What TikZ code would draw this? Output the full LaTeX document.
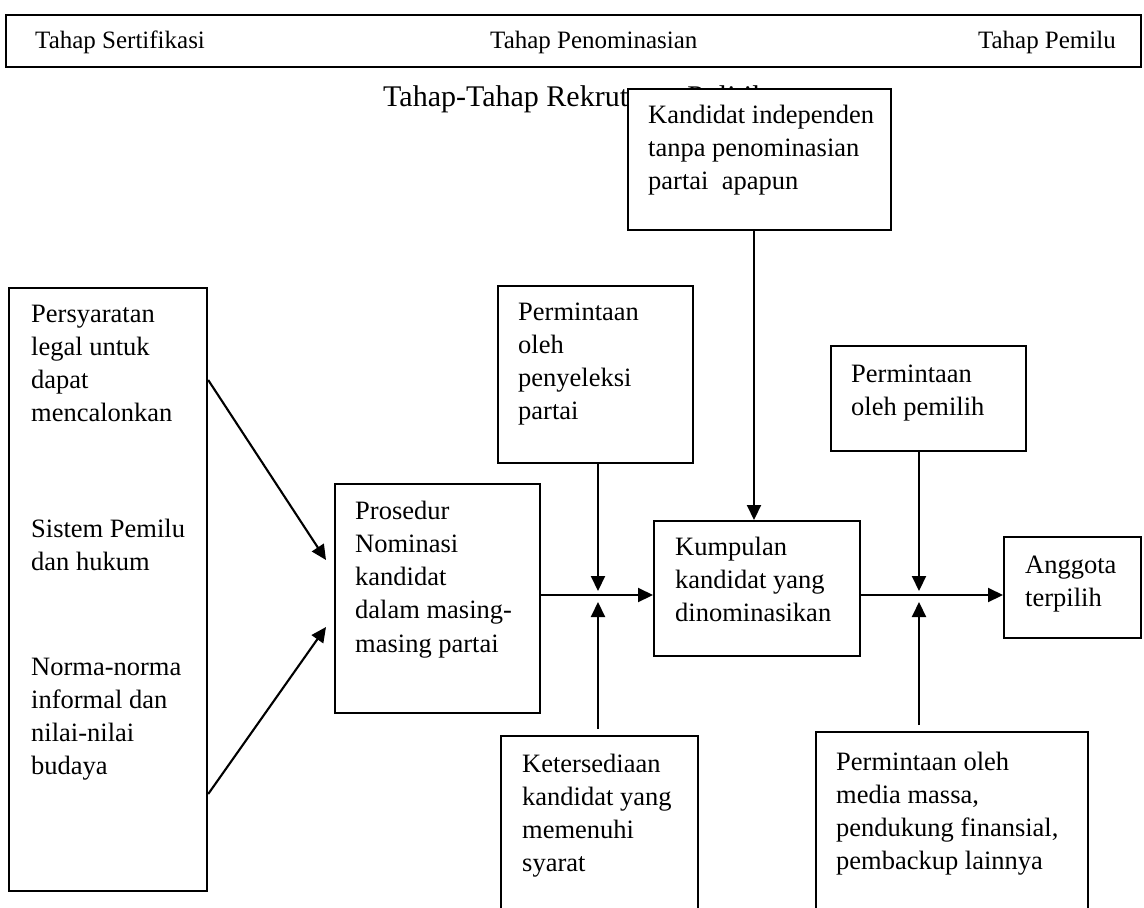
\documentclass[tikz,border=0pt]{standalone}
\usepackage{fontspec}
\setmainfont{Liberation Serif}
\usetikzlibrary{arrows.meta,calc}
\newcommand{\blk}[1]{\parbox[t]{300pt}{\raggedright #1}}
\begin{document}
\begin{tikzpicture}[x=1pt,y=-1pt,
  box/.style={draw=black, line width=2.2pt, fill=white, inner sep=0pt, anchor=north west},
  txt/.style={anchor=base west, inner sep=0pt, font=\fontsize{26.5}{33.3}\selectfont},
  toptxt/.style={inner sep=0pt, font=\fontsize{25}{30}\selectfont},
  arr/.style={line width=2.1pt, -{Triangle[length=15pt,width=14pt]}}]
\path[use as bounding box] (0,0) rectangle (1144,908);
\clip (0,0) rectangle (1144,908);
% header
\node[box, minimum width=1135pt, minimum height=52pt] (head) at (5,14) {};
\node[toptxt, anchor=base west] (h1) at (35,48) {Tahap Sertifikasi};
\node[toptxt, anchor=base west] (h2) at (490,48) {Tahap Penominasian};
\node[toptxt, anchor=base east] (h3) at (1116,48) {Tahap Pemilu};
\node[anchor=base west, inner sep=0pt, font=\fontsize{30}{36}\selectfont] (title) at (383,106) {Tahap-Tahap Rekrutmen Politik};
% boxes
\node[box, minimum width=263pt, minimum height=141pt] (kand) at (627,88) {};
\node[txt] (kandt) at (648,123) {\blk{Kandidat independen\\tanpa penominasian\\partai\ \ apapun}};
\node[box, minimum width=198pt, minimum height=603pt] (left) at (8,287) {};
\node[txt] (lt1) at (31,322) {\blk{Persyaratan\\legal untuk\\dapat\\mencalonkan}};
\node[txt] (lt2) at (31,537) {\blk{Sistem Pemilu\\dan hukum}};
\node[txt] (lt3) at (31,675) {\blk{Norma-norma\\informal dan\\nilai-nilai\\budaya}};
\node[box, minimum width=195pt, minimum height=177pt] (pen) at (497,285) {};
\node[txt] (pent) at (518,320) {\blk{Permintaan\\oleh\\penyeleksi\\partai}};
\node[box, minimum width=205pt, minimum height=229pt] (pros) at (334,483) {};
\node[txt] (prost) at (355,519) {\blk{Prosedur\\Nominasi\\kandidat\\dalam masing-\\masing partai}};
\node[box, minimum width=206pt, minimum height=135pt] (kump) at (653,520) {};
\node[txt] (kumpt) at (675,555) {\blk{Kumpulan\\kandidat yang\\dinominasikan}};
\node[box, minimum width=195pt, minimum height=105pt] (pem) at (830,345) {};
\node[txt] (pemt) at (851,382) {\blk{Permintaan\\oleh pemilih}};
\node[box, minimum width=137pt, minimum height=101pt] (ang) at (1003,536) {};
\node[txt] (angt) at (1025,573) {\blk{Anggota\\terpilih}};
\node[box, minimum width=197pt, minimum height=200pt] (ket) at (500,735) {};
\node[txt] (kett) at (522,772) {\blk{Ketersediaan\\kandidat yang\\memenuhi\\syarat}};
\node[box, minimum width=272pt, minimum height=200pt] (med) at (815,731) {};
\node[txt] (medt) at (836,770) {\blk{Permintaan oleh\\media massa,\\pendukung finansial,\\pembackup lainnya}};
% junctions
\coordinate (j1) at (598,595);
\coordinate (j2) at (919,595);
\coordinate (k1) at (754,0);
\coordinate (a1s) at (0,380);
\coordinate (a1t) at (0,560);
\coordinate (a2s) at (0,794);
\coordinate (a2t) at (0,627);
% connectors
\draw[arr] (left.east |- a1s) -- ($(pros.west |- a1t)+(-8,0)$);
\draw[arr] (left.east |- a2s) -- ($(pros.west |- a2t)+(-8,0)$);
\draw[arr] (pros.east |- j1) -- (kump.west |- j1);
\draw[arr] (kump.east |- j2) -- (ang.west |- j2);
\draw[arr] (pen.south -| j1) -- ([yshift=4pt]j1);
\draw[arr] ($(ket.north -| j1)+(0,-6)$) -- ([yshift=-7pt]j1);
\draw[arr] (kand.south -| k1) -- (kump.north -| k1);
\draw[arr] (pem.south -| j2) -- ([yshift=4pt]j2);
\draw[arr] ($(med.north -| j2)+(0,-6)$) -- ([yshift=-7pt]j2);
\end{tikzpicture}
\end{document}
